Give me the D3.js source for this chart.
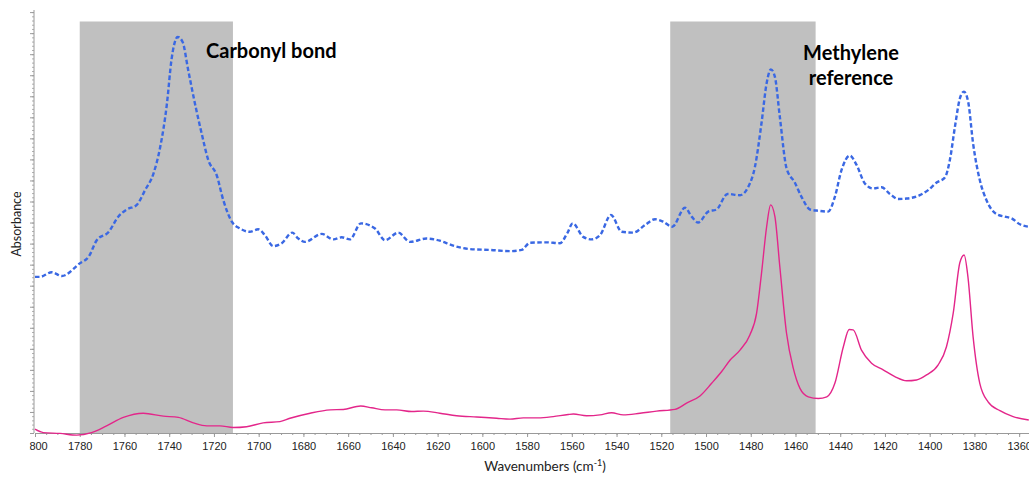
<!DOCTYPE html>
<html>
<head>
<meta charset="utf-8">
<script src="https://cdn.jsdelivr.net/npm/d3@7"></script>
<style>
  html, body { margin: 0; padding: 0; background: #fff; }
  svg { display: block; }
</style>
</head>
<body>
<svg id="chart" width="1029" height="477"></svg>
<script>
// Upper spectrum (blue, dashed): wavenumber (cm-1) and absorbance
const dashedWn = [1800, 1797.8, 1792.5, 1788, 1780, 1776, 1772.4, 1767, 1762.8, 1759, 1754.5, 1750.8, 1747, 1744,
  1741, 1739, 1736.2, 1734, 1731.5, 1728.5, 1725.5, 1722.5, 1718.8, 1715.8, 1712, 1708.4, 1704, 1700.2, 1697.2,
  1693.5, 1689.7, 1685, 1682.3, 1679.3, 1671.8, 1666.6, 1662.9, 1659.2, 1654.3, 1648, 1643.5, 1637.6, 1632.4,
  1625, 1619, 1613, 1605.5, 1596.6, 1587.7, 1582.4, 1578.7, 1571.3, 1565.3, 1562, 1559.6, 1554.9, 1551.1, 1547.4,
  1542.5, 1537.7, 1532.5, 1527.3, 1522.8, 1519.1, 1515.1, 1509.4, 1506.4, 1503.5, 1499, 1495.3, 1490.4, 1484.8,
  1481.1, 1478.1, 1475.2, 1472.9, 1471, 1469.2, 1467, 1464, 1460.3, 1457.3, 1453.5, 1449.8, 1445.4, 1442.4,
  1439.4, 1435.7, 1432.7, 1429, 1425.3, 1421.5, 1417.8, 1414.1, 1410.3, 1404.4, 1400.7, 1396.9, 1393.2, 1391,
  1388.7, 1386.5, 1384.7, 1382.8, 1380.6, 1377.6, 1374.6, 1370.1, 1366.4, 1363.4, 1359.7, 1355.7];
const dashedAbs = [0.371, 0.371, 0.382, 0.373, 0.403, 0.419, 0.458, 0.478, 0.514, 0.531, 0.542, 0.577, 0.617, 0.680,
  0.783, 0.886, 0.941, 0.929, 0.862, 0.783, 0.712, 0.648, 0.613, 0.553, 0.502, 0.486, 0.478, 0.484, 0.470,
  0.444, 0.451, 0.476, 0.462, 0.454, 0.473, 0.460, 0.465, 0.460, 0.498, 0.486, 0.458, 0.476, 0.454,
  0.462, 0.457, 0.445, 0.437, 0.435, 0.432, 0.435, 0.452, 0.453, 0.451, 0.475, 0.498, 0.466, 0.460, 0.470,
  0.518, 0.478, 0.476, 0.494, 0.508, 0.502, 0.490, 0.535, 0.514, 0.500, 0.526, 0.531, 0.568, 0.565,
  0.585, 0.633, 0.736, 0.831, 0.864, 0.846, 0.751, 0.629, 0.595, 0.561, 0.531, 0.528, 0.526, 0.561,
  0.625, 0.659, 0.637, 0.593, 0.581, 0.584, 0.568, 0.556, 0.557, 0.565, 0.577, 0.595, 0.607, 0.648,
  0.728, 0.795, 0.811, 0.787, 0.688, 0.601, 0.553, 0.520, 0.514, 0.510, 0.496, 0.490];

// Lower spectrum (magenta, solid)
const solidWn = [1800, 1796.3, 1788.8, 1781.4, 1774.7, 1768, 1760.5, 1751.6, 1742.6, 1735.9, 1729.2, 1723.2, 1717.3,
  1711.4, 1705.4, 1698, 1690.5, 1686, 1677, 1668, 1662.2, 1654.4, 1649.5, 1643.5, 1638.3, 1631.6, 1626.4, 1619,
  1611.5, 1602.5, 1593.6, 1587.7, 1581.7, 1575, 1568.3, 1561.6, 1559.3, 1553.4, 1547.4, 1542.2, 1537, 1529.5,
  1522.1, 1513.9, 1508.7, 1502.7, 1497.5, 1493, 1489.3, 1484.8, 1480.4, 1477.4, 1475.2, 1472.9, 1471.1, 1469.2,
  1467, 1464, 1461, 1458, 1454.3, 1449.8, 1446, 1442.4, 1438.6, 1436, 1434.2, 1430.5, 1426, 1420.8, 1415.6,
  1410.3, 1405.9, 1401.4, 1396.2, 1392.5, 1389.5, 1386.5, 1384.6, 1382.9, 1380.6, 1377.6, 1373.9, 1368.6,
  1362.7, 1355.7];
const solidAbs = [0.009, 0.001, -0.001, -0.005, 0.001, 0.017, 0.037, 0.047, 0.040, 0.037, 0.024, 0.017, 0.017,
  0.013, 0.015, 0.024, 0.027, 0.035, 0.047, 0.055, 0.056, 0.064, 0.060, 0.055, 0.055, 0.051, 0.052, 0.047,
  0.041, 0.038, 0.035, 0.033, 0.036, 0.036, 0.039, 0.044, 0.045, 0.041, 0.043, 0.048, 0.043, 0.047,
  0.052, 0.056, 0.071, 0.088, 0.118, 0.146, 0.173, 0.197, 0.233, 0.284, 0.379, 0.490, 0.542, 0.514,
  0.395, 0.237, 0.154, 0.106, 0.086, 0.082, 0.086, 0.118, 0.205, 0.246, 0.245, 0.197, 0.166, 0.150, 0.134,
  0.124, 0.126, 0.138, 0.162, 0.205, 0.284, 0.405, 0.423, 0.371, 0.229, 0.118, 0.074, 0.053,
  0.039, 0.031];

// Shaded spectral regions and their captions
const bandFrom = [1780, 1516];
const bandTo = [1711.5, 1451];
const bandCaptions = [["Carbonyl bond"], ["Methylene", "reference"]];

// Axis ticks
const xTickValues = d3.range(1800, 1359, -20);
const xMinorTickValues = d3.range(1800, 1355, -5);
const yTickValues = d3.range(0, 1.0001, 0.05);
const yMinorTickValues = d3.range(0, 1.0001, 0.01);

const svg = d3.select("#chart");
const W = 1029, H = 477;
const plotLeft = 35, plotRight = 1029, plotTop = 10, plotBottom = 433;

const x = d3.scaleLinear().domain([1800, 1355.6]).range([plotLeft, plotRight]);
const y = d3.scaleLinear().domain([0, 1.005]).range([plotBottom, plotTop]);

svg.append("rect").attr("width", W).attr("height", H).attr("fill", "#fff");

const defs = svg.append("defs");
defs.append("clipPath").attr("id", "plotClip")
  .append("rect").attr("x", plotLeft - 1).attr("y", 0)
  .attr("width", plotRight - plotLeft + 1).attr("height", plotBottom + 4);
defs.append("clipPath").attr("id", "labelClip")
  .append("rect").attr("x", 29.5).attr("y", 0).attr("width", W).attr("height", H);

// Shaded bands
const bandTop = 21.5;
svg.append("g").selectAll("rect")
  .data(bandFrom.map((f, i) => [f, bandTo[i]]))
  .join("rect")
  .attr("x", d => x(d[0]))
  .attr("width", d => x(d[1]) - x(d[0]))
  .attr("y", bandTop)
  .attr("height", plotBottom - bandTop)
  .attr("fill", "#c0c0c0");

// X axis
const xAxisG = svg.append("g").attr("transform", `translate(0,${plotBottom})`);
xAxisG.append("g")
  .call(d3.axisBottom(x).tickValues(xMinorTickValues).tickSize(2).tickSizeOuter(0).tickFormat(""))
  .call(g => g.select(".domain").remove())
  .call(g => g.selectAll("line").attr("stroke", "#9a9a9a"));
xAxisG.append("g")
  .attr("clip-path", "url(#labelClip)")
  .call(d3.axisBottom(x).tickValues(xTickValues).tickSize(4).tickSizeOuter(0).tickPadding(5).tickFormat(d3.format("d")))
  .call(g => g.select(".domain").attr("stroke", "#9a9a9a"))
  .call(g => g.selectAll("line").attr("stroke", "#9a9a9a"))
  .call(g => g.selectAll("text").attr("fill", "#222")
    .attr("font-family", "'Liberation Sans', Arial, sans-serif").attr("font-size", 11));

// Y axis (no labels)
const yAxisG = svg.append("g").attr("transform", `translate(${plotLeft - 1},0)`);
yAxisG.append("g")
  .call(d3.axisLeft(y).tickValues(yMinorTickValues).tickSize(2).tickSizeOuter(0).tickFormat(""))
  .call(g => g.select(".domain").remove())
  .call(g => g.selectAll("line").attr("stroke", "#b0b0b0"));
yAxisG.append("g")
  .call(d3.axisLeft(y).tickValues(yTickValues).tickSize(4).tickSizeOuter(0).tickFormat(""))
  .call(g => g.select(".domain").attr("stroke", "#9a9a9a").attr("d", `M0,${plotTop}V${plotBottom}`))
  .call(g => g.selectAll("line").attr("stroke", "#9a9a9a"));

// Spectra
const line = d3.line().x(d => x(d[0])).y(d => y(d[1])).curve(d3.curveMonotoneX);
const plot = svg.append("g").attr("clip-path", "url(#plotClip)");

plot.append("path")
  .datum(solidWn.map((w, i) => [w, solidAbs[i]]))
  .attr("d", line)
  .attr("fill", "none")
  .attr("stroke", "#e3268a")
  .attr("stroke-width", 1.4);

plot.append("path")
  .datum(dashedWn.map((w, i) => [w, dashedAbs[i]]))
  .attr("d", line)
  .attr("fill", "none")
  .attr("stroke", "#3a68e3")
  .attr("stroke-width", 2.4)
  .attr("stroke-dasharray", "4.5,2.5");

// Band captions
const captionFont = "Lato, 'Open Sans', sans-serif";
svg.append("text")
  .attr("x", 206).attr("y", 58)
  .attr("font-family", captionFont).attr("font-weight", "bold").attr("font-size", 20)
  .attr("fill", "#000")
  .text(bandCaptions[0][0]);

const methText = svg.append("text")
  .attr("text-anchor", "middle")
  .attr("font-family", captionFont).attr("font-weight", "bold").attr("font-size", 20)
  .attr("fill", "#000");
bandCaptions[1].forEach((t, i) => {
  methText.append("tspan").attr("x", 851).attr("y", 60 + i * 25).text(t);
});

// Axis titles
const titleFont = "Lato, 'Open Sans', sans-serif";
const xTitle = svg.append("text")
  .attr("x", 545).attr("y", 471)
  .attr("text-anchor", "middle")
  .attr("font-family", titleFont).attr("font-size", 13.5)
  .attr("fill", "#222");
xTitle.append("tspan").text("Wavenumbers (cm");
xTitle.append("tspan").attr("dy", -5).attr("font-size", 9).text("-1");
xTitle.append("tspan").attr("dy", 5).text(")");

svg.append("text")
  .attr("transform", "translate(21,224) rotate(-90)")
  .attr("text-anchor", "middle")
  .attr("font-family", titleFont).attr("font-size", 12.5)
  .attr("fill", "#222")
  .text("Absorbance");
</script>
</body>
</html>
